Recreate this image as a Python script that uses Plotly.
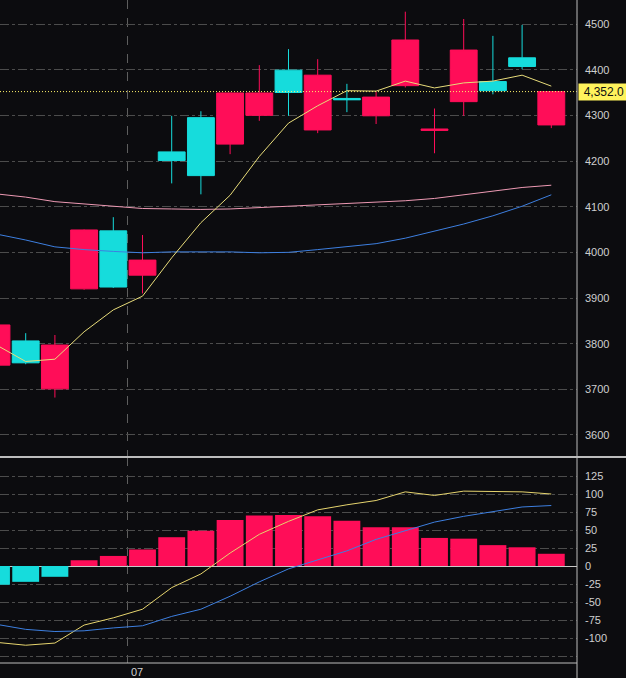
import plotly.graph_objects as go

# ---------------- data ----------------
idx = list(range(20))
opens = [3753, 3806, 3701, 3920, 4047, 3950, 4220, 4295, 4237, 4300,
         4399, 4268, 4337, 4299, 4365, 4267, 4330, 4374, 4426, 4279]
highs = [3845, 3823, 3819, 4050, 4077, 4038, 4299, 4309, 4350, 4410,
         4445, 4423, 4369, 4352, 4527, 4315, 4511, 4474, 4498, 4353]
lows = [3745, 3755, 3682, 3918, 3922, 3910, 4151, 4127, 4215, 4288,
        4299, 4261, 4307, 4281, 4361, 4217, 4299, 4346, 4401, 4272]
closes = [3841, 3758, 3797, 4049, 3924, 3983, 4201, 4168, 4349, 4349,
          4350, 4388, 4334, 4340, 4465, 4270, 4443, 4354, 4407, 4352]

ma_yellow = [3797, 3761, 3766, 3826, 3874, 3904, 3988, 4065, 4125, 4210,
             4283, 4321, 4354, 4353, 4375, 4360, 4371, 4375, 4388, 4364]
ma_pink = [4128, 4121, 4111, 4106, 4100, 4096, 4095, 4094, 4095, 4098,
           4100, 4104, 4106, 4109, 4113, 4118, 4126, 4133, 4142, 4147]
ma_blue = [4040, 4027, 4012, 4006, 4002, 3999, 4001, 4001, 4001, 3999,
           4000, 4006, 4012, 4019, 4031, 4047, 4062, 4080, 4101, 4126]

macd_hist = [-26, -22, -15, 8, 14, 23, 40, 49, 64, 70,
             71, 69, 63, 54, 54, 39, 38, 29, 26, 17]
dif = [-106, -110, -107, -82, -72, -60, -30, -11, 18, 44,
       62, 78, 85, 91, 103, 98, 104, 103, 103, 100]
dea = [-81, -88, -91, -90, -86, -83, -70, -60, -42, -22,
       -4, 9, 21, 37, 49, 61, 69, 76, 82, 84]

last_price = 4352.0
last_label = "4,352.0"
price_ticks = [3600, 3700, 3800, 3900, 4000, 4100, 4200, 4300, 4400, 4500]
macd_ticks = [-125, -100, -75, -50, -25, 0, 25, 50, 75, 100, 125]
macd_ticktext = ["", "-100", "-75", "-50", "-25", "0", "25", "50", "75", "100", "125"]
month_pos = 4.5
month_label = "07"

# ---------------- style ----------------
BG = "#0c0c0f"
RED = "#ff0d58"
CYAN = "#16dcdc"
GRID = "#4c4c4c"
TXT = "#cfcfcf"
SEP = "#bdbdbd"
FONT = "Liberation Sans, Arial, sans-serif"

W, H = 626, 678
ML, MR, MT, MB = 0, 49, 0, 15
plot_h = H - MT - MB  # 663
split = (plot_h - 457) / plot_h

fig = go.Figure()

fig.add_trace(go.Candlestick(
    x=idx, open=opens, high=highs, low=lows, close=closes,
    increasing=dict(line=dict(color=RED, width=1), fillcolor=RED),
    decreasing=dict(line=dict(color=CYAN, width=1), fillcolor=CYAN),
    whiskerwidth=0, hoverinfo="skip", showlegend=False,
    xaxis="x", yaxis="y"))

for vals, col in [(ma_pink, "#ee9ab4"), (ma_blue, "#3d7fe0"), (ma_yellow, "#e8dc7a")]:
    fig.add_trace(go.Scatter(x=idx, y=vals, mode="lines",
                             line=dict(color=col, width=1),
                             hoverinfo="skip", showlegend=False,
                             xaxis="x", yaxis="y"))

fig.add_trace(go.Bar(
    x=idx, y=macd_hist, width=0.92,
    marker=dict(color=[RED if v >= 0 else CYAN for v in macd_hist], line=dict(width=0)),
    hoverinfo="skip", showlegend=False, xaxis="x2", yaxis="y2"))
fig.add_trace(go.Scatter(x=idx, y=dif, mode="lines", line=dict(color="#e6d46e", width=1),
                         hoverinfo="skip", showlegend=False, xaxis="x2", yaxis="y2"))
fig.add_trace(go.Scatter(x=idx, y=dea, mode="lines", line=dict(color="#3d7fe0", width=1),
                         hoverinfo="skip", showlegend=False, xaxis="x2", yaxis="y2"))

xcommon = dict(range=[0.12, 19.88], showticklabels=False, tickvals=[month_pos],
               showgrid=True, gridcolor="#5e5e5e", griddash="dash", gridwidth=1,
               zeroline=False, showline=False, ticks="", fixedrange=True)

ycommon = dict(side="right", showgrid=True, gridcolor=GRID, griddash="dashdot", gridwidth=1,
               showline=False, ticks="", ticklabelstandoff=7,
               tickfont=dict(family=FONT, size=11, color=TXT), fixedrange=True)

fig.update_layout(
    width=W, height=H,
    margin=dict(l=ML, r=MR, t=MT, b=MB, pad=0),
    paper_bgcolor=BG, plot_bgcolor=BG,
    boxgap=0.08, boxgroupgap=0, bargap=0.08,
    showlegend=False,
    xaxis=dict(domain=[0, 1], anchor="y", rangeslider=dict(visible=False), **xcommon),
    xaxis2=dict(domain=[0, 1], anchor="y2", matches="x", **xcommon),
    yaxis=dict(domain=[split, 1], anchor="x", range=[3551.8, 4552.6],
               tickvals=price_ticks, ticktext=[str(v) for v in price_ticks],
               zeroline=False, **ycommon),
    yaxis2=dict(domain=[0, split], anchor="x2", range=[-134.7, 151.4],
                tickvals=macd_ticks, ticktext=macd_ticktext,
                zeroline=True, zerolinecolor="#c8c8c8", zerolinewidth=1, **ycommon),
)

shapes = [
    # last price dotted line
    dict(type="line", xref="paper", x0=0, x1=1, yref="y", y0=last_price, y1=last_price,
         line=dict(color="#fff36a", width=1, dash="1px,2px"), layer="above"),
    # pane separator
    dict(type="line", xref="paper", x0=0, x1=W / (W - MR), yref="paper", y0=split, y1=split,
         line=dict(color=SEP, width=2), layer="above"),
    # bottom border
    dict(type="line", xref="paper", x0=0, x1=1, yref="paper", y0=0, y1=0,
         line=dict(color=SEP, width=1), layer="above"),
    # right axis border
    dict(type="line", xref="paper", x0=1, x1=1, yref="paper", y0=-MB / plot_h, y1=1,
         line=dict(color=SEP, width=1), layer="above"),
]
fig.update_layout(shapes=shapes)

fig.add_annotation(x=1, xref="paper", y=last_price, yref="y", text=last_label + " ",
                   xanchor="left", yanchor="middle", xshift=1, showarrow=False,
                   bgcolor="#fff35c", font=dict(family=FONT, size=12, color="#111111"),
                   width=48, height=16, align="right", borderpad=0)
fig.add_annotation(x=month_pos, xref="x2", y=0, yref="paper", text=month_label,
                   xanchor="left", yanchor="top", xshift=1, yshift=-1, showarrow=False,
                   font=dict(family=FONT, size=11, color=TXT))

fig.write_html("out.html")
